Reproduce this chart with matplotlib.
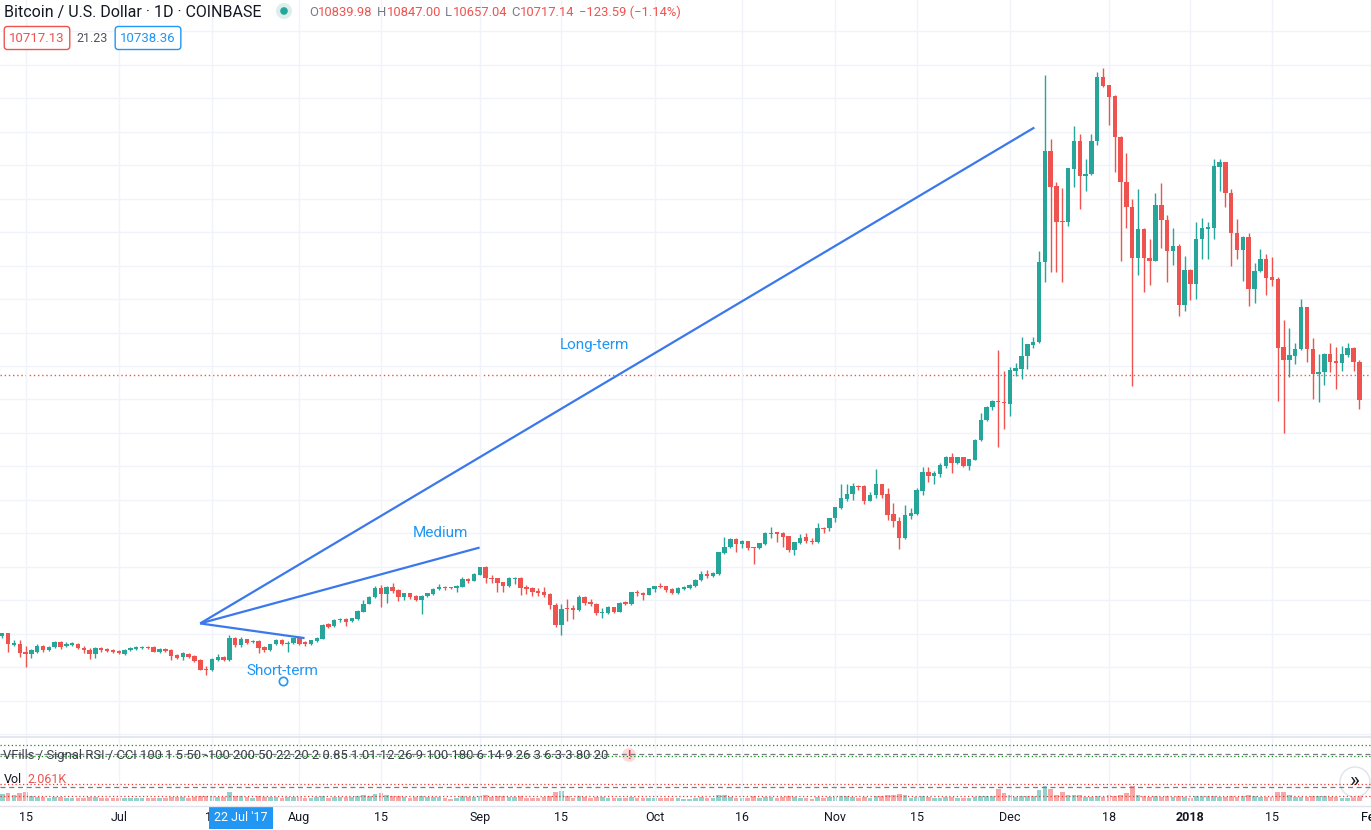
import matplotlib
matplotlib.use('Agg')
import matplotlib.pyplot as plt
from matplotlib.patches import Circle
import numpy as np
import pandas as pd

plt.rcParams['font.family'] = ['Roboto', 'DejaVu Sans']

# daily BTC/USD candles, Coinbase, 11 Jun 2017 - 30 Jan 2018
dates = pd.date_range('2017-06-11', '2018-01-30', freq='D')

opens = [
    # Jun
    2930, 3010, 2660, 2700, 2440, 2380, 2460, 2640, 2500, 2600, 2740, 2620, 2660, 2700, 2580, 2520, 2380, 2570, 2550, 2520,
    # Jul
    2470, 2400, 2510, 2530, 2570, 2600, 2600, 2460, 2550, 2510, 2350, 2290, 2400, 2330, 2220, 1950, 1900, 2220, 2300, 2210,
    2880, 2660, 2830, 2750, 2780, 2600, 2500, 2680, 2800, 2680, 2710,
    # Aug
    2860, 2750, 2680, 2780, 2850, 3280, 3220, 3410, 3450, 3370, 3440, 3660, 3900, 4080, 4370, 4170, 4400, 4300, 4100, 4200,
    4120, 4020, 4130, 4170, 4320, 4400, 4380, 4350, 4400, 4640, 4580,
    # Sep
    4760, 4980, 4660, 4650, 4530, 4410, 4630, 4650, 4380, 4350, 4260, 4240, 4170, 3860, 3250, 3750, 3760, 3700, 4100, 3950,
    3900, 3630, 3610, 3810, 3660, 3950, 3880, 4250, 4200, 4160,
    # Oct
    4340, 4430, 4410, 4320, 4210, 4330, 4350, 4410, 4600, 4770, 4720, 4770, 5400, 5600, 5820, 5670, 5760, 5590, 5550, 5680,
    5980, 6030, 6000, 5910, 5500, 5700, 5880, 5780, 5730, 6170, 6150,
    # Nov
    6450, 6770, 7030, 7170, 7400, 7400, 6970, 7130, 7470, 7170, 6580, 6360, 5860, 6530, 6590, 7270, 7840, 7710, 7770, 8020,
    8270, 8090, 8270, 8010, 8190, 8780, 9380, 9760, 9960, 9930,
    # Dec
    9870, 10860, 10910, 11290, 11630, 11720, 14100, 17420, 16380, 15330, 15290, 16900, 17740, 16680, 16730, 17720, 19650,
    19390, 19060, 17850, 16510, 15760, 14220, 15080, 14220, 14150, 15800, 15360, 14450, 14590, 12830,
    # Jan
    13870, 13450, 14790, 15090, 15120, 16960, 17110, 16180, 14990, 14480, 14870, 13290, 13830, 14200, 13660, 13600, 11580,
    11190, 11290, 11500, 12760, 11520, 10760, 10820, 11370, 11140, 11090, 11320, 11550, 11120,
]
highs = [
    3010, 3010, 2800, 2820, 2630, 2530, 2680, 2660, 2620, 2780, 2780, 2740, 2750, 2730, 2620, 2560, 2600, 2590, 2580, 2550,
    2500, 2550, 2590, 2630, 2640, 2620, 2620, 2580, 2580, 2540, 2380, 2440, 2430, 2360, 2240, 2030, 2260, 2390, 2330, 2960,
    2900, 2900, 2830, 2800, 2800, 2630, 2700, 2830, 2830, 2780, 2880,
    2930, 2780, 2820, 2900, 3300, 3320, 3450, 3480, 3470, 3480, 3720, 4000, 4130, 4420, 4450, 4420, 4520, 4330, 4220, 4220,
    4150, 4150, 4220, 4360, 4480, 4420, 4400, 4450, 4680, 4660, 4800,
    5000, 5010, 4760, 4650, 4540, 4700, 4680, 4700, 4460, 4380, 4360, 4380, 4200, 3930, 3900, 4050, 3850, 4140, 4130, 4030,
    3930, 3780, 3830, 3810, 3950, 3980, 4250, 4300, 4230, 4370,
    4430, 4500, 4430, 4350, 4380, 4430, 4470, 4630, 4880, 4900, 4850, 5450, 5880, 5870, 5850, 5800, 5760, 5600, 5720, 6050,
    6180, 6050, 6050, 5910, 5730, 5980, 6000, 5850, 6300, 6200, 6470,
    6780, 7480, 7480, 7500, 7450, 7450, 7230, 7910, 7470, 7350, 6900, 6500, 6850, 6750, 7350, 7990, 7990, 7860, 8090, 8310,
    8390, 8290, 8290, 8220, 8820, 9600, 9790, 9990, 11480, 10840,
    10960, 11080, 11880, 11660, 11870, 14430, 19700, 17800, 16510, 16310, 16930, 18170, 17920, 17200, 17920, 19780, 19900,
    19400, 19110, 17860, 17370, 15990, 16280, 15120, 14790, 16160, 16480, 15510, 15120, 14640, 14300,
    13900, 15290, 15410, 15290, 17180, 17180, 17110, 16280, 15390, 14900, 14970, 14080, 14500, 14350, 14250, 13650, 12380,
    12150, 11700, 13010, 12770, 11840, 11370, 11380, 11690, 11570, 11590, 11690, 11560, 11170,
]
lows = [
    2860, 2440, 2620, 2310, 2010, 2260, 2430, 2440, 2470, 2560, 2530, 2590, 2640, 2530, 2420, 2230, 2260, 2440, 2460, 2420,
    2380, 2370, 2480, 2510, 2530, 2550, 2440, 2430, 2450, 2220, 2230, 2220, 2260, 2150, 1900, 1760, 1880, 2180, 2180, 2180,
    2600, 2600, 2690, 2720, 2430, 2450, 2490, 2670, 2650, 2460, 2700,
    2650, 2630, 2660, 2760, 2830, 3180, 3200, 3360, 3230, 3340, 3420, 3640, 3880, 4060, 3800, 3920, 4200, 3970, 4020, 4050,
    3970, 3600, 4100, 4150, 4300, 4300, 4320, 4230, 4380, 4510, 4570,
    4740, 4510, 4510, 4250, 4250, 4400, 4480, 4160, 4180, 4130, 4130, 4080, 3730, 3210, 2950, 3380, 3450, 3680, 3850, 3830,
    3550, 3480, 3580, 3610, 3640, 3850, 3860, 4130, 4000, 4140,
    4240, 4350, 4240, 4180, 4180, 4310, 4340, 4400, 4560, 4670, 4700, 4760, 5380, 5550, 5430, 5550, 5500, 5070, 5520, 5650,
    5850, 5730, 5600, 5450, 5350, 5670, 5720, 5670, 5700, 6000, 6070,
    6350, 6730, 6950, 7000, 7300, 6880, 6950, 7050, 7050, 6410, 6190, 5520, 5830, 6440, 6560, 7130, 7530, 7470, 7670, 7940,
    7790, 8070, 7980, 7890, 8180, 8760, 9360, 9680, 8570, 9110,
    9500, 10700, 10600, 10910, 11530, 11700, 13500, 13800, 13800, 13500, 15190, 16350, 15690, 16230, 16700, 17620, 19340,
    18190, 16800, 14150, 15120, 10400, 13730, 13200, 13430, 14130, 14520, 13500, 14030, 12480, 12640,
    12960, 12990, 14200, 14200, 14790, 16230, 15760, 14000, 14200, 13550, 12780, 12890, 13800, 13110, 13400, 9940, 8990,
    10660, 11050, 11480, 11120, 10010, 9930, 10430, 10830, 10310, 10850, 11270, 10850, 9710,
]
closes = [
    3010, 2680, 2720, 2410, 2380, 2500, 2640, 2500, 2600, 2740, 2600, 2680, 2710, 2560, 2500, 2380, 2580, 2510, 2490, 2440,
    2420, 2520, 2560, 2610, 2600, 2570, 2460, 2550, 2490, 2320, 2270, 2410, 2300, 2180, 1920, 1910, 2240, 2300, 2210, 2880,
    2660, 2830, 2730, 2780, 2560, 2500, 2680, 2800, 2680, 2730, 2860,
    2680, 2680, 2800, 2860, 3250, 3210, 3420, 3450, 3350, 3460, 3680, 3900, 4100, 4370, 4170, 4400, 4280, 4100, 4200, 4080,
    4020, 4130, 4200, 4340, 4400, 4350, 4350, 4430, 4640, 4580, 4780,
    4980, 4660, 4630, 4510, 4430, 4650, 4650, 4360, 4330, 4240, 4220, 4150, 3860, 3250, 3750, 3730, 3700, 4100, 3910, 3900,
    3610, 3650, 3810, 3660, 3930, 3880, 4230, 4200, 4150, 4350,
    4410, 4400, 4300, 4210, 4350, 4400, 4450, 4610, 4790, 4730, 4800, 5430, 5600, 5820, 5670, 5760, 5550, 5570, 5700, 6000,
    6020, 5980, 5890, 5500, 5730, 5870, 5770, 5730, 6150, 6130, 6450,
    6780, 7050, 7170, 7400, 7380, 6970, 7130, 7470, 7150, 6560, 6360, 5860, 6540, 6600, 7280, 7840, 7710, 7790, 8040, 8270,
    8090, 8270, 8010, 8210, 8800, 9400, 9770, 9960, 9920, 9880,
    10880, 10930, 11290, 11650, 11720, 14120, 17420, 16350, 15310, 15290, 16910, 17740, 16680, 16750, 17740, 19650, 19360,
    19030, 17840, 16500, 15760, 14220, 15080, 14220, 14150, 15800, 15360, 14450, 14590, 12830, 13870,
    13450, 14790, 15110, 15140, 16980, 17110, 16160, 14990, 14480, 14870, 13290, 13830, 14200, 13640, 13580, 11550, 11190,
    11320, 11520, 12760, 11500, 10760, 10830, 11370, 11120, 11090, 11350, 11550, 11120, 9980,
]
volumes = [
    22, 26, 18, 24, 28, 14, 12, 11, 10, 12, 11, 9, 9, 10, 10, 13, 12, 9, 9, 10,
    9, 8, 8, 9, 8, 8, 10, 8, 8, 12, 11, 11, 10, 12, 15, 14, 16, 13, 12, 27, 16, 14, 11, 9, 14, 12, 11, 12, 9, 11, 12,
    13, 10, 10, 11, 16, 10, 13, 12, 12, 11, 15, 17, 15, 22, 26, 18, 16, 16, 12, 10, 12, 14, 11, 12, 11, 8, 7, 10, 14, 12, 13,
    15, 17, 12, 16, 15, 13, 11, 15, 10, 10, 10, 11, 15, 27, 30, 15, 10, 14, 11, 9, 13, 12, 9, 8, 10, 8, 12, 9, 10, 10,
    8, 8, 9, 9, 8, 7, 7, 8, 11, 10, 10, 18, 17, 11, 10, 9, 9, 14, 10, 12, 13, 10, 12, 14, 11, 9, 10, 7, 11, 9, 11,
    13, 16, 14, 11, 9, 13, 10, 16, 14, 20, 18, 22, 17, 10, 13, 16, 12, 9, 10, 11, 13, 9, 10, 10, 12, 16, 14, 14, 38, 26,
    18, 12, 14, 14, 15, 33, 45, 36, 20, 28, 18, 17, 17, 12, 13, 15, 13, 17, 16, 18, 24, 45, 20, 14, 13, 16, 13, 16, 12, 16, 12,
    10, 16, 14, 14, 16, 12, 11, 15, 13, 16, 17, 14, 12, 12, 12, 28, 28, 18, 13, 12, 12, 16, 14, 14, 11, 12, 10, 9, 12, 14,
]

tick_dates = ['2017-06-15', '2017-07-01', '2017-07-17', '2017-08-01', '2017-08-15', '2017-09-01', '2017-09-15',
              '2017-10-01', '2017-10-16', '2017-11-01', '2017-11-15', '2017-12-01', '2017-12-18', '2018-01-01',
              '2018-01-15', '2018-02-01']
tick_labels = ['15', 'Jul', '17', 'Aug', '15', 'Sep', '15', 'Oct', '16', 'Nov', '15', 'Dec', '18', '2018', '15', 'Feb']
cursor_date = '2017-07-22'
cursor_label = "22 Jul '17"
last_price = 10717.14

# drawn trend lines: (day index, price)
trend_origin = (33.97, 3305)
trend_ends = [(177.2, 18128), (81.95, 5573), (51.9, 2866)]
trend_labels = ['Long-term', 'Medium', 'Short-term']
label_points = [(101.65, 11642), (75.16, 6000), (48.15, 1881)]
anchor_point = (48.15, 1582)

UP, DOWN = '#26a69a', '#ef5350'
GRID = '#f0f3fa'
TXT = '#131722'
W, H = 1371, 830

idx = np.arange(len(dates))
o, h, l, c = (np.array(a, dtype=float) for a in (opens, highs, lows, closes))
up = c >= o
colors = np.where(up, UP, DOWN)
tick_pos = [(pd.Timestamp(d) - dates[0]).days for d in tick_dates]
xlim = (-0.39, 233.96)

fig = plt.figure(figsize=(W / 100, H / 100), dpi=100)
fig.patch.set_facecolor('white')


def rows(y0, y1):
    return [0, 1 - y1 / H, 1, (y1 - y0) / H]


# main price pane
ax = fig.add_axes(rows(0, 736))
ax.set_xlim(*xlim)
ax.set_ylim(-60, 21940)
ax.set_yticks(range(0, 22000, 1000))
ax.set_xticks(tick_pos)
ax.grid(True, color=GRID, lw=1)
ax.tick_params(length=0, labelleft=False, labelbottom=False)
for s in ax.spines.values():
    s.set_visible(False)

ax.vlines(idx, l, h, colors=colors, lw=1.0, zorder=2)
ax.bar(idx, np.maximum(np.abs(c - o), 30), bottom=np.minimum(o, c), width=0.76,
       color=colors, linewidth=0, zorder=3)

ax.axhline(last_price, color=DOWN, lw=1, ls=(0, (1, 2)), zorder=1)

for (ex, ey), name, (lx, ly) in zip(trend_ends, trend_labels, label_points):
    ax.plot([trend_origin[0], ex], [trend_origin[1], ey], color='#3a78ec', lw=1.6,
            solid_capstyle='butt', zorder=4)
    ax.text(lx, ly, name, color='#2196f3', fontsize=11, ha='center', va='center', zorder=5)
ax.plot(*anchor_point, marker='o', ms=6, mfc='white', mec='#2196f3', mew=1.2, zorder=5)

# volume / indicator panes
vax = fig.add_axes(rows(736, 801))
vax.set_xlim(*xlim)
vax.set_ylim(0, 200)
vax.bar(idx, volumes, width=0.8, color=colors, alpha=0.5, linewidth=0)
vax.set_xticks(tick_pos, tick_labels)
vax.set_yticks([])
vax.grid(True, axis='x', color=GRID, lw=1)
vax.tick_params(length=0, pad=7, labelsize=9, labelcolor=TXT)
for lab in vax.get_xticklabels():
    if lab.get_text() == '2018':
        lab.set_fontweight('bold')
for s in vax.spines.values():
    s.set_visible(False)
vax.annotate('Feb', xy=(tick_pos[-1], 0), xycoords=('data', 'axes fraction'), xytext=(0, -7),
             textcoords='offset points', ha='center', va='top', fontsize=9, color=TXT, annotation_clip=False)
cur = (pd.Timestamp(cursor_date) - dates[0]).days
vax.annotate(cursor_label, xy=(cur, 0), xycoords=('data', 'axes fraction'), xytext=(0, -7.5),
             textcoords='offset points', ha='center', va='top', fontsize=9, color='white',
             bbox=dict(boxstyle='square,pad=0.4', fc='#2196f3', ec='none'))

# overlay for legends and pane decorations (pixel coordinates)
ov = fig.add_axes([0, 0, 1, 1])
ov.set_xlim(0, W)
ov.set_ylim(H, 0)
ov.axis('off')

ov.plot([0, W], [736.5, 736.5], color='#e0e3eb', lw=1.2)
ov.plot([0, W], [805.5, 805.5], color='#e0e3eb', lw=1)
for y, col, ls in [(745, '#1b8f1b', (0, (1, 2))), (756, '#1b8f1b', (0, (1, 2))), (754, '#787b86', (0, (4, 3))),
                   (784, '#e53935', (0, (1, 2))), (796, '#e53935', (0, (1, 2))), (787, '#787b86', (0, (4, 3)))]:
    ov.plot([0, W], [y, y], color=col, lw=0.9, ls=ls)

ov.text(3, 755, 'VFills / Signal RSI / CCI 100 1 5 50 -100 200 50 22 20 2 0.85 1.01 12 26 9 100 180 6 14 9 26 3 6 3 3 80 20',
        fontsize=9.4, color='#3c404b', va='center', ha='left')
ov.add_patch(Circle((629, 755), 7, fc='#fbdada', ec='none'))
ov.text(629, 755, '!', fontsize=9, color='#f23645', fontweight='bold', ha='center', va='center')
ov.text(4, 779, 'Vol', fontsize=9, color=TXT, va='center')
ov.text(27, 779, '2.061K', fontsize=9, color=DOWN, va='center')

ov.add_patch(Circle((1355, 782), 15, fc='white', ec='#e0e3eb', lw=1))
ov.text(1355, 781, '»', fontsize=15, color=TXT, ha='center', va='center')

# header legend
ov.text(4, 12, 'Bitcoin / U.S. Dollar · 1D · COINBASE', fontsize=11.5, color=TXT, va='center', ha='left')
ov.add_patch(Circle((284, 11), 8, fc='#dcefec', ec='none'))
ov.add_patch(Circle((284, 11), 3.8, fc=UP, ec='none'))

parts = [('O', '#787b86', 0), ('10839.98', DOWN, 0.3), ('H', '#787b86', 3), ('10847.00', DOWN, 0.3),
         ('L', '#787b86', 3), ('10657.04', DOWN, 0.3), ('C', '#787b86', 3), ('10717.14', DOWN, 0.3),
         ('\u2212123.59 (\u22121.14%)', DOWN, 3)]
t = ov.text(309, 12, parts[0][0], fontsize=9.4, color=parts[0][1], va='center', ha='left')
for s, col, gap in parts[1:]:
    t = ov.annotate(s, xy=(1, 0.5), xycoords=t, xytext=(gap, 0), textcoords='offset points',
                    fontsize=9.4, color=col, va='center', ha='left')

ov.text(37, 38, '10717.13', fontsize=9.5, color=DOWN, ha='center', va='center',
        bbox=dict(boxstyle='round,pad=0.38,rounding_size=0.25', fc='white', ec=DOWN, lw=1))
ov.text(92, 38, '21.23', fontsize=9, color='#50535e', ha='center', va='center')
ov.text(148, 38, '10738.36', fontsize=9.5, color='#2196f3', ha='center', va='center',
        bbox=dict(boxstyle='round,pad=0.38,rounding_size=0.25', fc='white', ec='#2196f3', lw=1))

fig.savefig('out.png', dpi=100)
